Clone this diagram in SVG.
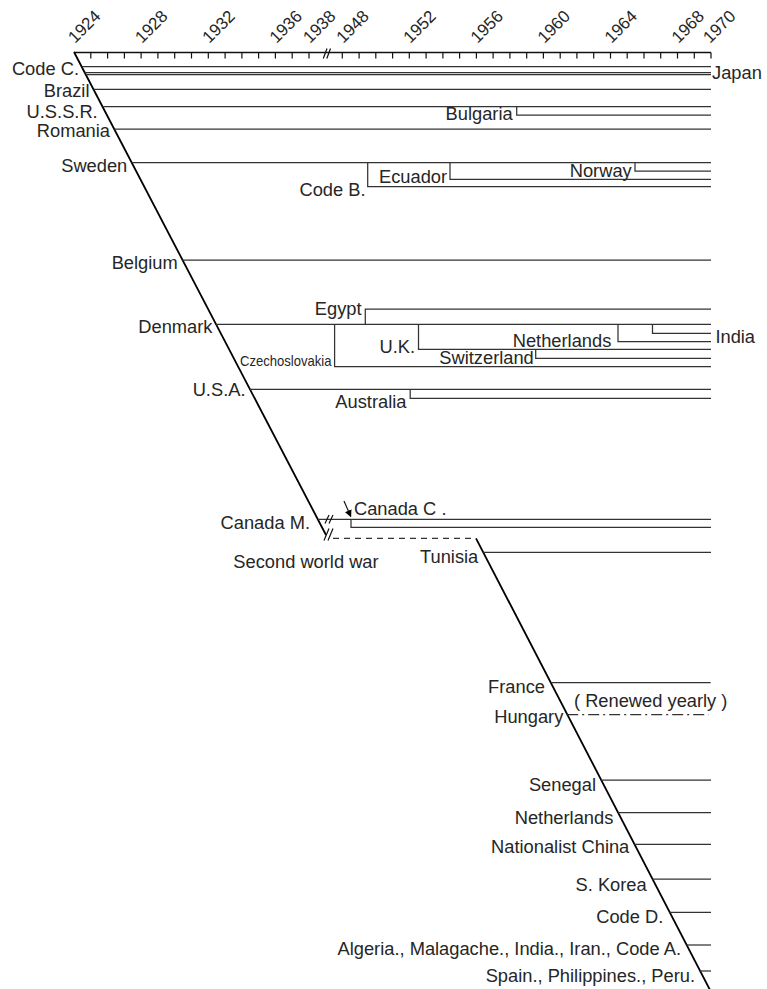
<svg xmlns="http://www.w3.org/2000/svg" width="767" height="989" viewBox="0 0 767 989">
<style>
text{font-family:"Liberation Sans",Arial,sans-serif;font-size:18.3px;fill:#262626}
.e{text-anchor:end}
.yr{font-size:17px}
.ln{fill:none;stroke:#333;stroke-width:1.25}
.dg{fill:none;stroke:#000;stroke-width:1.8}
.ax{fill:none;stroke:#111;stroke-width:1.6}
.tk{stroke:#111;stroke-width:1.2}
.br{stroke:#111;stroke-width:1.2;fill:none}
</style>
<defs>
<marker id="ah" viewBox="0 0 10 10" refX="9" refY="5" markerWidth="7" markerHeight="7" orient="auto" markerUnits="userSpaceOnUse"><path d="M0,0 L10,5 L0,10 z" fill="#000"/></marker>
</defs>
<g id="axis">
<path class="ax" d="M74,52.5 H711"/>
<path class="tk" d="M90.8,52.5V58.5M107.6,52.5V58.5M124.4,52.5V58.5M141.1,52.5V58.5M157.9,52.5V58.5M174.7,52.5V58.5M191.5,52.5V58.5M208.3,52.5V58.5M225.1,52.5V58.5M241.9,52.5V58.5M258.6,52.5V58.5M275.4,52.5V58.5M292.2,52.5V58.5M309,52.5V58.5
M342.3,52.5V58.5M359.1,52.5V58.5M375.8,52.5V58.5M392.6,52.5V58.5M409.3,52.5V58.5M426.1,52.5V58.5M442.9,52.5V58.5M459.6,52.5V58.5M476.4,52.5V58.5M493.1,52.5V58.5M509.9,52.5V58.5M526.7,52.5V58.5M543.4,52.5V58.5M560.2,52.5V58.5M576.9,52.5V58.5M593.7,52.5V58.5M610.5,52.5V58.5M627.2,52.5V58.5M644,52.5V58.5M660.7,52.5V58.5M677.5,52.5V58.5M694.3,52.5V58.5M711,52.5V58.5"/>
<path class="br" d="M323.3,58.5 L327,48.5 M326.8,58.5 L330.5,48.5"/>
<text class="yr" transform="translate(75,44) rotate(-45)">1924</text>
<text class="yr" transform="translate(142,44) rotate(-45)">1928</text>
<text class="yr" transform="translate(209.3,44) rotate(-45)">1932</text>
<text class="yr" transform="translate(276.4,44) rotate(-45)">1936</text>
<text class="yr" transform="translate(310,44) rotate(-45)">1938</text>
<text class="yr" transform="translate(343.3,44) rotate(-45)">1948</text>
<text class="yr" transform="translate(410.3,44) rotate(-45)">1952</text>
<text class="yr" transform="translate(477.4,44) rotate(-45)">1956</text>
<text class="yr" transform="translate(544.5,44) rotate(-45)">1960</text>
<text class="yr" transform="translate(611.5,44) rotate(-45)">1964</text>
<text class="yr" transform="translate(678.5,44) rotate(-45)">1968</text>
<text class="yr" transform="translate(710,44) rotate(-45)">1970</text>
</g>
<g id="connectors">
<path class="dg" d="M74,52 L326,535"/>
<path class="dg" d="M476,538.3 L710,990"/>
<path class="ln" d="M81.8,66.7 H711"/>
<path class="ln" d="M84.8,72.7 H711 M85.8,74.7 H711"/>
<path class="ln" d="M93.5,89.3 H711"/>
<path class="ln" d="M102.5,106.7 H711"/>
<path class="ln" d="M516.7,106.7 V115 H711"/>
<path class="ln" d="M114.2,129 H711"/>
<path class="ln" d="M131.8,162.7 H711"/>
<path class="ln" d="M367.7,162.7 V186.7 H711"/>
<path class="ln" d="M450,162.7 V179.3 H711"/>
<path class="ln" d="M635,162.7 V171 H711"/>
<path class="ln" d="M182.5,260 H711"/>
<path class="ln" d="M216.1,324.3 H711"/>
<path class="ln" d="M365.3,324.3 V309 H711"/>
<path class="ln" d="M334.6,324.3 V366.7 H711"/>
<path class="ln" d="M418.5,324.3 V349.3 H711"/>
<path class="ln" d="M618,324.3 V341.7 H711"/>
<path class="ln" d="M652.5,324.3 V333.3 H711"/>
<path class="ln" d="M535.7,349.3 V358.3 H711"/>
<path class="ln" d="M250,389.3 H711"/>
<path class="ln" d="M410.2,389.3 V398.3 H711"/>
<path class="ln" d="M317.8,519.3 H711"/>
<path class="br" d="M325,523.5 L329,515 M329,523.5 L333,515"/>
<path class="ln" d="M351,519.3 V527.3 H711"/>
<path class="br" d="M344,501 L350.8,516.5" marker-end="url(#ah)"/>
<path class="br" d="M324,540.5 L329,528.5 M328,540.5 L333,528.5"/>
<path class="ln" d="M333,538.3 H476" stroke-dasharray="6 5"/>
<path class="ln" d="M483.2,552.3 H711"/>
<path class="ln" d="M550.8,682.7 H710.7"/>
<path class="ln" d="M567.2,714.5 H708.5" stroke-dasharray="11 4 2 4"/>
<path class="ln" d="M601.1,780 H711"/>
<path class="ln" d="M618.1,812.7 H711"/>
<path class="ln" d="M634.4,844.3 H711"/>
<path class="ln" d="M652.4,879 H711"/>
<path class="ln" d="M669.6,912.3 H711"/>
<path class="ln" d="M686.5,945 H711"/>
<path class="ln" d="M700,971 H711"/>
</g>
<g id="code-c"><text class="e" x="79" y="75">Code C.</text></g>
<g id="japan"><text x="712" y="79">Japan</text></g>
<g id="brazil"><text class="e" x="89.5" y="96.7">Brazil</text></g>
<g id="ussr"><text class="e" x="97.7" y="117.8">U.S.S.R.</text></g>
<g id="bulgaria"><text class="e" x="512.7" y="120">Bulgaria</text></g>
<g id="romania"><text class="e" x="110" y="137.3">Romania</text></g>
<g id="sweden"><text class="e" x="127.3" y="171.5">Sweden</text></g>
<g id="code-b"><text class="e" x="365.5" y="196">Code B.</text></g>
<g id="ecuador"><text x="379" y="182.7">Ecuador</text></g>
<g id="norway"><text class="e" x="631.7" y="177.3">Norway</text></g>
<g id="belgium"><text class="e" x="177.7" y="269">Belgium</text></g>
<g id="egypt"><text class="e" x="361.6" y="315">Egypt</text></g>
<g id="denmark"><text class="e" x="212.5" y="333">Denmark</text></g>
<g id="czechoslovakia"><text x="240" y="366" style="font-size:15px" textLength="91.5" lengthAdjust="spacingAndGlyphs">Czechoslovakia</text></g>
<g id="uk"><text class="e" x="415" y="353">U.K.</text></g>
<g id="netherlands-1"><text class="e" x="611.3" y="346.7">Netherlands</text></g>
<g id="india-1"><text x="715.4" y="343.3">India</text></g>
<g id="switzerland"><text class="e" x="533.8" y="364">Switzerland</text></g>
<g id="usa"><text class="e" x="245.5" y="396">U.S.A.</text></g>
<g id="australia"><text class="e" x="406.5" y="408">Australia</text></g>
<g id="canada-c"><text x="354" y="515">Canada C .</text></g>
<g id="canada-m"><text class="e" x="310" y="529.3">Canada M.</text></g>
<g id="ww2"><text x="233.3" y="568.3">Second world war</text></g>
<g id="tunisia"><text class="e" x="478.3" y="562.7">Tunisia</text></g>
<g id="france"><text class="e" x="545" y="692.7">France</text></g>
<g id="renewed"><text x="574" y="706.5">( Renewed yearly )</text></g>
<g id="hungary"><text class="e" x="563.3" y="723.3">Hungary</text></g>
<g id="senegal"><text class="e" x="596" y="790.7">Senegal</text></g>
<g id="netherlands-2"><text class="e" x="613.3" y="824">Netherlands</text></g>
<g id="nat-china"><text class="e" x="629.3" y="853.3">Nationalist China</text></g>
<g id="s-korea"><text class="e" x="646.7" y="890.7">S. Korea</text></g>
<g id="code-d"><text class="e" x="663.3" y="923.3">Code D.</text></g>
<g id="algeria"><text class="e" x="681" y="955">Algeria., Malagache., India., Iran., Code A.</text></g>
<g id="spain"><text class="e" x="695" y="981.7">Spain., Philippines., Peru.</text></g>
</svg>
